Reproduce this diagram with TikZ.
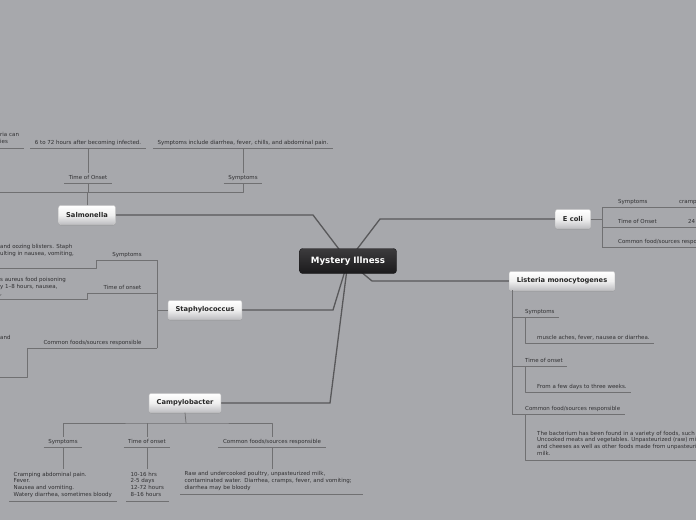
\documentclass[tikz,border=0pt]{standalone}
\usepackage{fontspec}
\setmainfont{DejaVu Sans}
\usetikzlibrary{positioning, calc, backgrounds, shadows}
\definecolor{canvas}{HTML}{A7A8AC}
\definecolor{ink}{HTML}{303032}
\definecolor{twigc}{HTML}{707072}
\definecolor{trunkc}{HTML}{58585A}
\definecolor{rootTop}{HTML}{3C3B3D}
\definecolor{rootBot}{HTML}{1B1A1C}
\definecolor{brBot}{HTML}{BDBDC0}

\begin{document}
\begin{tikzpicture}[x=1pt, y=-1pt, line join=round,
  root/.style={rounded corners=3pt, draw=rootBot, top color=rootTop, bottom color=rootBot, text=white, font=\fontsize{8.7}{10}\selectfont\bfseries, minimum width=97pt, minimum height=25pt},
  br/.style={rounded corners=2pt, draw=white!80!black, top color=white, bottom color=brBot, middle color=white!94!black, text=black!85, font=\fontsize{6.7}{8}\selectfont\bfseries, minimum height=19pt, inner xsep=7.5pt, drop shadow={opacity=0.25, shadow xshift=0pt, shadow yshift=-1pt}},
  tx/.style={font=\fontsize{5.5}{6.7}\selectfont, text=ink, text height=4.2pt, text depth=1.3pt, inner ysep=2pt, inner xsep=4.5pt},
  ml/.style={font=\fontsize{5.5}{6.7}\selectfont, text=ink, align=left, inner ysep=2.5pt, inner xsep=4.5pt, execute at end node=\strut},
  cut/.style={font=\fontsize{5.5}{6.7}\selectfont, text=ink, align=left, inner sep=0pt},
  twig/.style={draw=twigc, line width=0.75pt},
  trunk/.style={draw=trunkc, line width=1.3pt}]
\useasboundingbox (0,0) rectangle (696,520);
\clip (0,0) rectangle (696,520);

\node[root] (mi) at (348,261) {Mystery Illness};
\node[br] (sal) at (87,215) {Salmonella};
\node[br] (ecoli) at (573,219) {E coli};
\node[br] (list) at (562,281) {Listeria monocytogenes};
\node[br] (staph) at (205,310) {Staphylococcus};
\node[br] (campy) at (185,403) {Campylobacter};

% Salmonella
\node[tx, anchor=south] (salton) at (88,183) {Time of Onset};
\node[tx, anchor=south] (salsym) at (243,183) {Symptoms};
\node[tx, anchor=south] (salton1) at (88,148) {6 to 72 hours after becoming infected.};
\node[tx, anchor=south] (salsym1) at (243,148) {Symptoms include diarrhea, fever, chills, and abdominal pain.};
\node[ml, anchor=south west] (salx1) at (-4.5,148) {ria can\\ies};
\coordinate (salbar) at (87,192);
\coordinate (salcut) at (-1,192);
\draw[twig] (sal.north) -- (salbar);
\draw[twig] (salcut) -| (salsym.south);
\draw[twig] (salton.south |- salbar) -- (salton.south);
\draw[twig] (salton.north) -- (salton1.south);
\draw[twig] (salsym.north) -- (salsym1.south);
\foreach \n in {salton, salsym, salton1, salsym1, salx1}
  \draw[twig] (\n.south west) -- (\n.south east);

% Staphylococcus
\coordinate (stbar) at (157,310);
\node[tx, minimum width=60pt, anchor=south] (stsym) at (127,260) {Symptoms};
\node[tx, minimum width=69pt, anchor=south] (stton) at (122.5,293) {Time of onset};
\node[tx, minimum width=129pt, anchor=south] (stcom) at (92.5,348) {Common foods/sources responsible};
\node[cut, anchor=north west] (stsym1) at (0,244.5) {and oozing blisters. Staph\\ulting in nausea, vomiting,};
\node[cut, anchor=north west] (stton1) at (0,277.5) {s aureus food poisoning\\y 1–8 hours, nausea,\\,};
\node[cut, anchor=north west] (stcom1) at (0,335.5) {and};
\coordinate (stcut1) at (-1,268);
\coordinate (stcut2) at (-1,299);
\coordinate (stcut3) at (-1,377);
\draw[twig] (staph.west) -- (stbar);
\draw[twig] (stsym.south east) -- (stcom.south east);
\draw[twig] (stsym.south east) -- (stsym.south west) |- (stcut1);
\draw[twig] (stton.south east) -- (stton.south west) |- (stcut2);
\draw[twig] (stcom.south east) -- (stcom.south west) |- (stcut3);

% Campylobacter
\coordinate (cabar) at (186,423);
\node[tx, anchor=south] (casym) at (63,447) {Symptoms};
\node[tx, anchor=south] (caton) at (147,447) {Time of onset};
\node[tx, anchor=south] (cacom) at (272,447) {Common foods/sources responsible};
\node[ml, anchor=south west] (casym1) at (9,501) {Cramping abdominal pain.\\Fever.\\Nausea and vomiting.\\Watery diarrhea, sometimes bloody};
\node[ml, anchor=south west] (caton1) at (126,501) {10-16 hrs\\2-5 days\\12-72 hours\\8–16 hours};
\node[ml, anchor=south west, text width=174pt] (cacom1) at (180,494) {Raw and undercooked poultry, unpasteurized milk,\\contaminated water. Diarrhea, cramps, fever, and vomiting;\\diarrhea may be bloody};
\draw[twig] (campy.south) -- (cabar);
\draw[twig] (casym.north) |- (cabar) -| (cacom.north);
\draw[twig] (caton.north) -- (caton.north |- cabar);
\foreach \n in {casym, caton, cacom}
  \draw[twig] (\n.south) -- (\n.south |- \n1.north);
\foreach \n in {casym, caton, cacom, casym1, caton1, cacom1}
  \draw[twig] (\n.south west) -- (\n.south east);

% E coli
\coordinate (ecbar) at (602,219);
\node[tx, anchor=south west] (ecsym) at (613.5,207) {Symptoms};
\node[tx, anchor=south west] (ecsym1) at (674.5,207) {cramp};
\node[tx, anchor=south west] (ecton) at (613.5,227) {Time of Onset};
\node[tx, anchor=south west] (ecton1) at (683.5,227) {24};
\node[tx, anchor=south west] (eccom) at (613.5,247) {Common food/sources respo};
\coordinate (eccut1) at (697,207);
\coordinate (eccut2) at (697,227);
\coordinate (eccut3) at (697,247);
\draw[twig] (ecoli.east) -- (ecbar);
\draw[twig] (eccut1 -| ecbar) -- (eccut3 -| ecbar);
\foreach \k in {1,2,3}
  \draw[twig] (eccut\k -| ecbar) -- (eccut\k);

% Listeria
\coordinate (libar) at (512,290);
\node[tx, anchor=south west] (lisym) at (520.5,317) {Symptoms};
\node[tx, anchor=south west] (lisym1) at (532.5,343) {muscle aches, fever, nausea or diarrhea.};
\node[tx, anchor=south west] (liton) at (520.5,366) {Time of onset};
\node[tx, anchor=south west] (liton1) at (532.5,392) {From a few days to three weeks.};
\node[tx, anchor=south west] (licom) at (520.5,414) {Common food/sources responsible};
\node[ml, anchor=south west] (licom1) at (532.5,460) {The bacterium has been found in a variety of foods, such\\Uncooked meats and vegetables. Unpasteurized (raw) mi\\and cheeses as well as other foods made from unpasteuri\\milk.};
\coordinate (licut) at (697,460);
\draw[twig] (libar) -- (libar |- licom.south);
\foreach \n in {lisym, liton, licom}
  \draw[twig] (libar |- \n.south) -- (\n.south east);
\draw[twig] ([xshift=4.5pt]lisym.south west) |- (lisym1.south east);
\draw[twig] ([xshift=4.5pt]liton.south west) |- (liton1.south east);
\draw[twig] ([xshift=4.5pt]licom.south west) |- (licut);

\begin{scope}[on background layer]
\fill[canvas] (0,0) rectangle (696,520);
\draw[trunk] (mi.center) -- (313,215) -- (sal.east);
\draw[trunk] (mi.center) -- (380,219) -- (ecoli.west);
\draw[trunk] (mi.center) -- (372,281) -- (list.west);
\draw[trunk] (mi.center) -- (333,310) -- (staph.east);
\draw[trunk] (mi.center) -- (330,403) -- (campy.east);
\end{scope}
\end{tikzpicture}
\end{document}
